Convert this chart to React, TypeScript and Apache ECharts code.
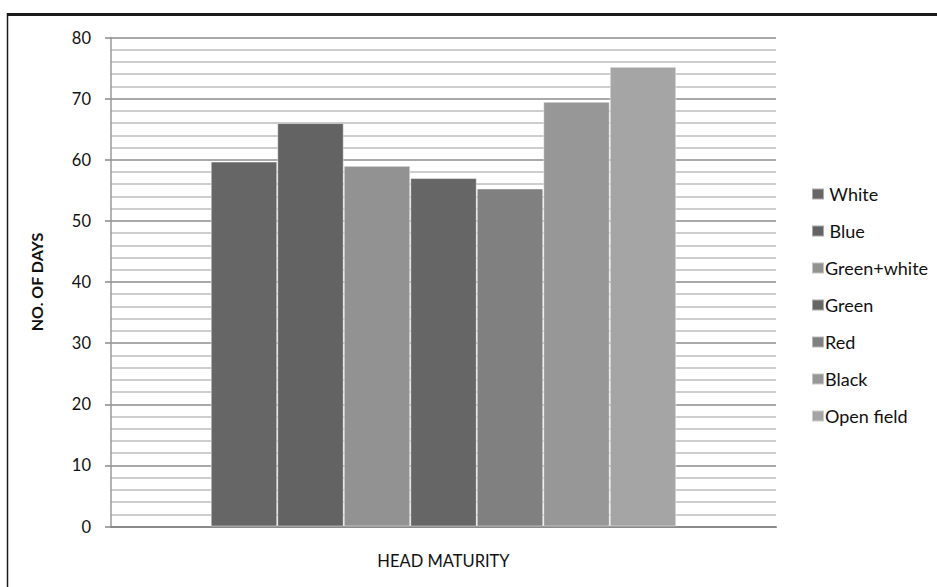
import React, { useEffect, useRef } from "react";
import * as echarts from "echarts";

// Days to head maturity by mulch colour
const categories = ["HEAD MATURITY"];
const seriesNames = ["White", "Blue", "Green+white", "Green", "Red", "Black", "Open field"];
const seriesValues = [59.7, 66.0, 59.0, 57.0, 55.3, 69.5, 75.2];
const seriesColors = ["#666666", "#636363", "#929292", "#666666", "#808080", "#979797", "#a5a5a5"];
const yTicks = { min: 0, max: 80, interval: 10 };

const FONT = "Lato, 'Open Sans', sans-serif";

export default function App() {
  const ref = useRef<HTMLDivElement>(null);

  useEffect(() => {
    document.body.style.margin = "0";
    if (!ref.current) return;
    const chart = echarts.init(ref.current, undefined, { renderer: "svg" });

    const series = seriesNames.map((name, i) => ({
      name,
      type: "bar" as const,
      data: [seriesValues[i]],
      barGap: "0%",
      barCategoryGap: "30%",
      itemStyle: {
        color: seriesColors[i],
        borderColor: "rgba(255,255,255,0.45)",
        borderWidth: 1,
      },
    }));

    chart.setOption({
      animation: false,
      backgroundColor: "#ffffff",
      textStyle: { fontFamily: FONT },
      grid: { left: 111, right: 161, top: 37.5, bottom: 60.5 },
      legend: {
        orient: "vertical",
        left: 806,
        top: 180,
        itemWidth: 12,
        itemHeight: 11,
        itemGap: 19,
        icon: "rect",
        data: seriesNames,
        formatter: (name: string) => (name === "White" || name === "Blue" ? " " + name : name),
        textStyle: { fontSize: 18, color: "#111111", fontFamily: FONT, padding: [0, 0, 0, -4] },
      },
      xAxis: {
        type: "category",
        data: categories,
        name: "HEAD MATURITY",
        nameLocation: "middle",
        nameGap: 26,
        nameTextStyle: { fontSize: 16.5, color: "#111111", fontFamily: FONT },
        axisLabel: { show: false },
        axisTick: { show: false },
        axisLine: { show: true, lineStyle: { color: "#8a8a8a", width: 2 } },
      },
      yAxis: {
        type: "value",
        min: yTicks.min,
        max: yTicks.max,
        interval: yTicks.interval,
        name: "NO. OF DAYS",
        nameLocation: "middle",
        nameGap: 67,
        nameRotate: 90,
        nameTextStyle: { fontSize: 16, fontWeight: "bold", color: "#111111", fontFamily: FONT },
        axisLine: { show: true, lineStyle: { color: "#9a9a9a", width: 1.5 } },
        axisTick: { show: true, length: 6, lineStyle: { color: "#8a8a8a", width: 1.5 } },
        axisLabel: { fontSize: 16.5, color: "#111111", margin: 20, fontFamily: FONT },
        splitLine: { show: true, lineStyle: { color: "#8c8c8c", width: 1.5 } },
        minorTick: { show: false, splitNumber: 5 },
        minorSplitLine: { show: true, lineStyle: { color: "#bdbdbd", width: 1.5 } },
      },
      graphic: [
        {
          type: "line",
          shape: { x1: 7, y1: 14.5, x2: 937, y2: 14.5 },
          style: { stroke: "#1a1a1a", lineWidth: 3 },
          silent: true,
        },
        {
          type: "line",
          shape: { x1: 7.5, y1: 13, x2: 7.5, y2: 587 },
          style: { stroke: "#1a1a1a", lineWidth: 1.5 },
          silent: true,
        },
      ],
      series,
    });

    return () => chart.dispose();
  }, []);

  return <div ref={ref} style={{ width: 937, height: 587 }} />;
}
